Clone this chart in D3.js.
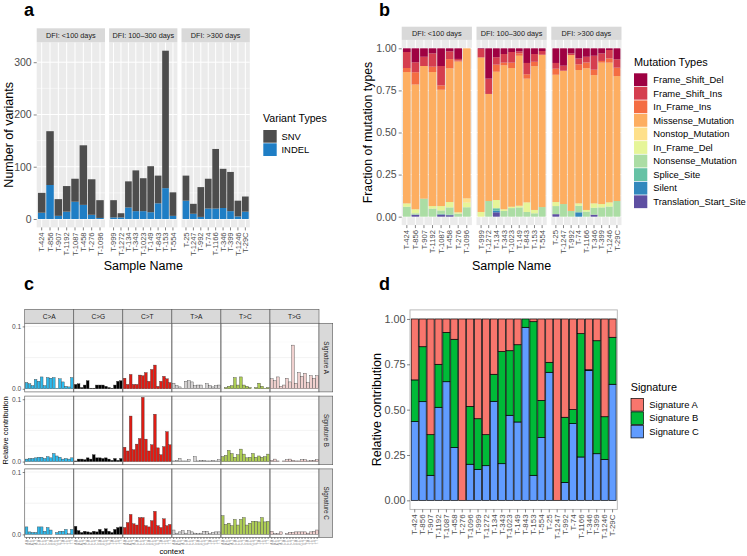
<!DOCTYPE html>
<html><head><meta charset="utf-8">
<script src="https://cdn.jsdelivr.net/npm/d3@7"></script>
<style>body{margin:0;background:#fff}svg{display:block}text{font-family:"Liberation Sans",Arial,sans-serif}</style>
</head><body><svg id="c" width="747" height="556"></svg>
<script>
// ---------------- DATA ----------------
const groups = ["DFI: <100 days", "DFI: 100–300 days", "DFI: >300 days"];
const samples = ["T-424","T-856","T-907","T-1192","T-1087","T-458","T-276","T-1096",
  "T-999","T-1272","T-134","T-343","T-1023","T-149","T-843","T-153","T-554",
  "T-25","T-1247","T-992","T-74","T-1166","T-346","T-399","T-1246","T-29C"];
const sampleGroup = [0,0,0,0,0,0,0,0, 1,1,1,1,1,1,1,1,1, 2,2,2,2,2,2,2,2,2];

// panel a: variant counts
const variantTypes = ["SNV", "INDEL"];
const snvCounts   = [38,103,32,49,44,114,68,34, 33,8,50,78,63,88,53,263,45, 48,19,57,57,114,75,75,30,29];
const indelCounts = [12,65,6,14,33,27,8,2, 3,3,22,15,15,13,30,59,6, 35,10,4,20,20,21,15,5,14];
const aTicks = [0, 100, 200, 300];

// panel b: fraction of mutation types
const mutationTypes = ["Frame_Shift_Del","Frame_Shift_Ins","In_Frame_Ins","Missense_Mutation","Nonstop_Mutation",
  "In_Frame_Del","Nonsense_Mutation","Splice_Site","Silent","Translation_Start_Site"];
const frameShiftDel = [.022,.083,.050,.030,.105,.018,.063,0, .004,.180,.053,.034,.022,.018,.087,.034,.016, .087,.103,.030,.060,.050,.044,.030,.010,.065];
const frameShiftIns = [.095,.059,.055,.079,.115,.046,.010,0, .050,.091,.044,.051,.063,.012,.067,.046,.022, .034,.030,.010,.035,.034,.083,.045,.050,.050];
const inFrameIns    = [.024,.073,0,.032,.026,.055,.006,0, 0,0,.042,.016,.032,.014,.026,.026,0, .036,0,0,.034,.034,.032,.010,.025,.050];
const missense      = [.780,.741,.788,.796,.691,.794,.895,.891, .918,.636,.762,.855,.824,.891,.735,.854,.905, .756,.792,.926,.792,.842,.762,.840,.830,.742];
const nonstop       = [0,0,0,0,0,0,0,.025, 0,0,0,0,0,0,0,0,0, 0,0,0,0,0,0,0,0,0];
const inFrameDel    = [.020,.024,0,.015,.026,.032,.008,.028, .028,0,.049,.010,.008,.010,.057,.020,0, .024,0,0,.014,.010,.026,.020,.025,0];
const nonsense      = [.059,.008,.107,.048,.020,.042,.018,.056, 0,.093,0,.034,.051,.055,.028,.020,.057, .048,.075,.034,.039,.030,.041,.055,.060,.093];
const spliceSite    = [0,0,0,0,.004,.004,0,0, 0,0,.014,0,0,0,0,0,0, 0,0,0,0,0,0,0,0,0];
const silent        = [0,0,0,0,0,0,0,0, 0,0,.010,0,0,0,0,0,0, 0,0,0,.026,0,0,0,0,0];
const translationStart = [0,.012,0,0,.013,.009,0,0, 0,0,.026,0,0,0,0,0,0, .015,0,0,0,0,.012,0,0,0];
const bTicks = [0, 0.25, 0.5, 0.75, 1];

// panel c: 96-context mutational signatures
const substitutions = ["C>A","C>G","C>T","T>A","T>C","T>G"];
const contexts = ["A.A","A.C","A.G","A.T","C.A","C.C","C.G","C.T","G.A","G.C","G.G","G.T","T.A","T.C","T.G","T.T"];
const signatureNames = ["Signature A","Signature B","Signature C"];
const profileA = [
  [.010,.008,.005,.015,.012,.019,.005,.018,.017,.018,.001,.016,.011,.004,.003,.018],
  [.007,.008,.002,.006,.013,.001,.001,.006,.006,.006,.004,.002,.001,.006,.012,.013],
  [.017,.007,.023,.007,.007,.022,.021,.026,.012,.031,.038,.004,.012,.020,.016,.010],
  [.009,.005,.003,.001,.012,.013,.011,.005,.006,.006,.001,.008,.005,.003,.005,.006],
  [.000,.002,.004,.005,.018,.006,.019,.006,.004,.002,.000,.002,.009,.004,.001,.002],
  [.016,.013,.019,.004,.006,.017,.011,.070,.009,.026,.020,.025,.010,.021,.017,.021]];
const profileB = [
  [.004,.005,.005,.006,.007,.007,.005,.008,.006,.013,.009,.007,.004,.005,.004,.006],
  [.001,.004,.004,.003,.006,.004,.011,.006,.006,.005,.006,.004,.002,.005,.002,.005],
  [.023,.017,.073,.019,.028,.037,.103,.036,.017,.027,.076,.022,.011,.024,.048,.027],
  [.001,.002,.005,.001,.001,.003,.000,.008,.001,.002,.002,.001,.001,.002,.001,.003],
  [.008,.010,.018,.013,.007,.011,.020,.012,.006,.007,.013,.007,.009,.007,.008,.012],
  [.002,.004,.001,.000,.001,.003,.004,.002,.001,.001,.003,.003,.001,.002,.002,.003]];
const profileC = [
  [.012,.004,.003,.003,.012,.012,.005,.011,.007,.000,.003,.005,.005,.008,.001,.008],
  [.013,.006,.003,.005,.004,.003,.005,.004,.008,.005,.009,.005,.003,.008,.011,.012],
  [.011,.019,.032,.017,.015,.027,.027,.014,.012,.022,.037,.014,.011,.025,.014,.016],
  [.007,.002,.004,.006,.002,.006,.004,.002,.001,.002,.005,.005,.001,.003,.004,.004],
  [.030,.016,.018,.014,.024,.015,.024,.027,.015,.018,.021,.021,.020,.027,.020,.021],
  [.005,.001,.001,.004,.000,.001,.003,.003,.004,.004,.004,.004,.002,.004,.005,.007]];
const cTicks = [0, 0.1];

// panel d: signature contributions
const signatureA = [.336,.153,.638,.250,.074,.112,1,.482, .550,.638,.305,.180,.175,.142,0,.015,.449, .239,1,.542,.500,.081,.280,.120,.539,.101];
const signatureB = [.230,.303,.224,.237,.272,.596,0,.319, .279,.171,.149,.618,.356,.426,.046,.847,.205, .055,0,.359,.077,.680,.005,.623,.235,.259];
const signatureC = [.434,.544,.138,.513,.654,.292,0,.199, .171,.191,.546,.202,.469,.432,.954,.138,.346, .706,0,.099,.423,.239,.715,.257,.226,.640];
const dTicks = [0, 0.25, 0.5, 0.75, 1];

// ---------------- STYLE ----------------
const variantColors = ["#4d4d4d", "#1f7ec5"];
const mutColors = ["#9e0142","#d53e4f","#f46d43","#fdae61","#fee08b","#e6f598","#abdda4","#66c2a5","#3288bd","#5e4fa2"];
const subColors = ["#2EBAED","#000000","#DE1C14","#D4D2D2","#ADCC54","#F0D0CE"];
const sigColors = ["#F8766D","#00BA38","#619CFF"];
const svg = d3.select("#c");
const TXT = "#4d4d4d";

function styleAxis(g, fs) {
  g.select(".domain").remove();
  g.selectAll(".tick line").attr("stroke", "#333").attr("stroke-width", 0.6);
  g.selectAll(".tick text").attr("fill", TXT).attr("font-size", fs).attr("font-family", "Liberation Sans, Arial, sans-serif");
}
function rotateX(g, pad) {
  g.selectAll(".tick text").attr("transform", "rotate(-90)").attr("text-anchor", "end")
    .attr("x", -pad).attr("y", 0).attr("dy", "0.34em");
}
function band(domain, r) {
  return d3.scaleBand().domain(domain).range(r).paddingInner(0.1).paddingOuter(0.15);
}
function label(t, x, y) {
  svg.append("text").attr("x", x).attr("y", y).attr("font-size", 18).attr("font-weight", "bold").attr("fill", "#000").text(t);
}

// ---------------- PANEL A ----------------
label("a", 24, 16);
const aFacets = [[36.7,105.0],[109.1,177.4],[181.5,249.8]];
const aTop = 42.3, aBot = 227.4, aStrip = 28.3;
const aTotals = snvCounts.map((v, i) => v + indelCounts[i]);
const aMax = d3.max(aTotals);
const ya = d3.scaleLinear().domain([-0.05 * aMax, 1.05 * aMax]).range([aBot, aTop]);
groups.forEach((gname, gi) => {
  const [x0, x1] = aFacets[gi];
  const idx = samples.map((s, i) => i).filter(i => sampleGroup[i] === gi);
  const x = band(idx.map(i => samples[i]), [x0, x1]);
  svg.append("rect").attr("x", x0).attr("y", aTop).attr("width", x1 - x0).attr("height", aBot - aTop).attr("fill", "#ebebeb");
  aTicks.slice(0, -1).forEach(t => svg.append("line").attr("x1", x0).attr("x2", x1).attr("y1", ya(t + 50)).attr("y2", ya(t + 50)).attr("stroke", "#fff").attr("stroke-width", 0.5));
  aTicks.forEach(t => svg.append("line").attr("x1", x0).attr("x2", x1).attr("y1", ya(t)).attr("y2", ya(t)).attr("stroke", "#fff").attr("stroke-width", 1));
  idx.forEach(i => { const cx = x(samples[i]) + x.bandwidth() / 2;
    svg.append("line").attr("x1", cx).attr("x2", cx).attr("y1", aTop).attr("y2", aBot).attr("stroke", "#fff").attr("stroke-width", 1); });
  svg.append("rect").attr("x", x0).attr("y", aStrip).attr("width", x1 - x0).attr("height", aTop - aStrip).attr("fill", "#d9d9d9");
  svg.append("text").attr("x", (x0 + x1) / 2).attr("y", (aStrip + aTop) / 2).attr("dy", "0.35em").attr("text-anchor", "middle")
    .attr("font-size", 7.3).attr("fill", "#1a1a1a").text(gname);
  idx.forEach(i => {
    const s = samples[i];
    svg.append("rect").attr("x", x(s)).attr("width", x.bandwidth()).attr("y", ya(indelCounts[i])).attr("height", ya(0) - ya(indelCounts[i])).attr("fill", variantColors[1]);
    svg.append("rect").attr("x", x(s)).attr("width", x.bandwidth()).attr("y", ya(aTotals[i])).attr("height", ya(indelCounts[i]) - ya(aTotals[i])).attr("fill", variantColors[0]);
  });
  const g = svg.append("g").attr("transform", `translate(0,${aBot})`).call(d3.axisBottom(x).tickSize(3));
  styleAxis(g, 7.6); rotateX(g, 5);
});
{
  const g = svg.append("g").attr("transform", `translate(${aFacets[0][0]},0)`).call(d3.axisLeft(ya).tickValues(aTicks).tickSize(3).tickPadding(2));
  styleAxis(g, 10.5);
}
svg.append("text").attr("transform", `translate(9,${(aTop + aBot) / 2}) rotate(-90)`).attr("text-anchor", "middle").attr("dy", "0.35em")
  .attr("font-size", 12.5).attr("fill", "#000").text("Number of variants");
svg.append("text").attr("x", (aFacets[0][0] + aFacets[2][1]) / 2).attr("y", 270).attr("text-anchor", "middle")
  .attr("font-size", 12.5).attr("fill", "#000").text("Sample Name");
svg.append("text").attr("x", 263).attr("y", 122).attr("font-size", 10.6).attr("fill", "#000").text("Variant Types");
variantTypes.forEach((v, i) => {
  svg.append("rect").attr("x", 263.3).attr("y", 130 + i * 13.3).attr("width", 13.4).attr("height", 12.7).attr("fill", variantColors[i]);
  svg.append("text").attr("x", 281.5).attr("y", 136.5 + i * 13.3).attr("dy", "0.35em").attr("font-size", 9.4).attr("fill", "#000").text(v);
});

// ---------------- PANEL B ----------------
label("b", 379, 16);
const bFacets = [[401.7,471.9],[476.5,546.7],[551.3,621.5]];
const bTop = 39.9, bBot = 225.1, bStrip = 26.7;
const yb = d3.scaleLinear().domain([-0.05, 1.05]).range([bBot, bTop]);
const mutSeries = [frameShiftDel, frameShiftIns, inFrameIns, missense, nonstop, inFrameDel, nonsense, spliceSite, silent, translationStart];
const bRows = samples.map((s, i) => { const o = { sample: s }; mutationTypes.forEach((m, k) => o[m] = mutSeries[k][i]); return o; });
const bStack = d3.stack().keys(mutationTypes.slice().reverse())(bRows);
groups.forEach((gname, gi) => {
  const [x0, x1] = bFacets[gi];
  const idx = samples.map((s, i) => i).filter(i => sampleGroup[i] === gi);
  const x = band(idx.map(i => samples[i]), [x0, x1]);
  svg.append("rect").attr("x", x0).attr("y", bTop).attr("width", x1 - x0).attr("height", bBot - bTop).attr("fill", "#ebebeb");
  [0.125, 0.375, 0.625, 0.875].forEach(t => svg.append("line").attr("x1", x0).attr("x2", x1).attr("y1", yb(t)).attr("y2", yb(t)).attr("stroke", "#fff").attr("stroke-width", 0.5));
  bTicks.forEach(t => svg.append("line").attr("x1", x0).attr("x2", x1).attr("y1", yb(t)).attr("y2", yb(t)).attr("stroke", "#fff").attr("stroke-width", 1));
  idx.forEach(i => { const cx = x(samples[i]) + x.bandwidth() / 2;
    svg.append("line").attr("x1", cx).attr("x2", cx).attr("y1", bTop).attr("y2", bBot).attr("stroke", "#fff").attr("stroke-width", 1); });
  svg.append("rect").attr("x", x0).attr("y", bStrip).attr("width", x1 - x0).attr("height", bTop - bStrip).attr("fill", "#d9d9d9");
  svg.append("text").attr("x", (x0 + x1) / 2).attr("y", (bStrip + bTop) / 2).attr("dy", "0.35em").attr("text-anchor", "middle")
    .attr("font-size", 7.3).attr("fill", "#1a1a1a").text(gname);
  bStack.forEach(layer => {
    const col = mutColors[mutationTypes.indexOf(layer.key)];
    idx.forEach(i => {
      const d = layer[i];
      if (d[1] - d[0] <= 0) return;
      svg.append("rect").attr("x", x(samples[i])).attr("width", x.bandwidth()).attr("y", yb(d[1])).attr("height", yb(d[0]) - yb(d[1])).attr("fill", col);
    });
  });
  const g = svg.append("g").attr("transform", `translate(0,${bBot})`).call(d3.axisBottom(x).tickSize(3));
  styleAxis(g, 7.6); rotateX(g, 5);
});
{
  const g = svg.append("g").attr("transform", `translate(${bFacets[0][0]},0)`).call(d3.axisLeft(yb).tickValues(bTicks).tickFormat(d3.format(".2f")).tickSize(3).tickPadding(2));
  styleAxis(g, 10.5);
}
svg.append("text").attr("transform", `translate(368,${(bTop + bBot) / 2}) rotate(-90)`).attr("text-anchor", "middle").attr("dy", "0.35em")
  .attr("font-size", 12.3).attr("fill", "#000").text("Fraction of mutation types");
svg.append("text").attr("x", (bFacets[0][0] + bFacets[2][1]) / 2).attr("y", 270).attr("text-anchor", "middle")
  .attr("font-size", 12.5).attr("fill", "#000").text("Sample Name");
svg.append("text").attr("x", 634).attr("y", 65.5).attr("font-size", 10.9).attr("fill", "#000").text("Mutation Types");
mutationTypes.forEach((m, i) => {
  svg.append("rect").attr("x", 634).attr("y", 73.3 + i * 13.56).attr("width", 13.3).attr("height", 12.8).attr("fill", mutColors[i]);
  svg.append("text").attr("x", 653.3).attr("y", 79.7 + i * 13.56).attr("dy", "0.35em").attr("font-size", 9.4).attr("fill", "#000").text(m);
});

// ---------------- PANEL C ----------------
label("c", 24, 290);
const cLeft = 24.7, cColW = 49.05, cStripTop = 309.3, cStripBot = 323.3;
const cRows = [[323.3, 391.9], [396.1, 464.7], [468.9, 537.5]];
const profiles = [profileA, profileB, profileC];
const cRight = cLeft + 6 * cColW;
substitutions.forEach((sub, k) => {
  const x0 = cLeft + k * cColW;
  svg.append("rect").attr("x", x0).attr("y", cStripTop).attr("width", cColW).attr("height", cStripBot - cStripTop).attr("fill", "#d9d9d9").attr("stroke", "#555").attr("stroke-width", 0.6);
  svg.append("text").attr("x", x0 + cColW / 2).attr("y", (cStripTop + cStripBot) / 2).attr("dy", "0.35em").attr("text-anchor", "middle")
    .attr("font-size", 6.6).attr("fill", "#1a1a1a").text(sub);
});
profiles.forEach((prof, r) => {
  const [top, bot] = cRows[r];
  const y = d3.scaleLinear().domain([-0.005, 0.105]).range([bot, top]);
  svg.append("rect").attr("x", cLeft).attr("y", top).attr("width", cRight - cLeft).attr("height", bot - top).attr("fill", "#fff");
  [0.025, 0.075].forEach(t => svg.append("line").attr("x1", cLeft).attr("x2", cRight).attr("y1", y(t)).attr("y2", y(t)).attr("stroke", "#f2f2f2").attr("stroke-width", 0.4));
  [0, 0.05, 0.1].forEach(t => svg.append("line").attr("x1", cLeft).attr("x2", cRight).attr("y1", y(t)).attr("y2", y(t)).attr("stroke", "#ebebeb").attr("stroke-width", 0.6));
  substitutions.forEach((sub, k) => {
    const x0 = cLeft + k * cColW;
    const x = band(contexts, [x0, x0 + cColW]);
    contexts.forEach((c, j) => {
      const v = prof[k][j];
      svg.append("rect").attr("x", x(c)).attr("width", x.bandwidth()).attr("y", y(v)).attr("height", y(0) - y(v))
        .attr("fill", subColors[k]).attr("stroke", "#333").attr("stroke-width", 0.35);
    });
    svg.append("rect").attr("x", x0).attr("y", top).attr("width", cColW).attr("height", bot - top).attr("fill", "none").attr("stroke", "#666").attr("stroke-width", 0.7);
    if (r === 2) {
      const g = svg.append("g").attr("transform", `translate(0,${bot})`).call(d3.axisBottom(x).tickSize(1.5));
      styleAxis(g, 3); rotateX(g, 2.5);
      g.selectAll(".tick text").attr("fill", "#7f7f7f");
    }
  });
  svg.append("rect").attr("x", cRight).attr("y", top).attr("width", 13.7).attr("height", bot - top).attr("fill", "#d9d9d9").attr("stroke", "#555").attr("stroke-width", 0.6);
  svg.append("text").attr("transform", `translate(${cRight + 6.85},${(top + bot) / 2}) rotate(90)`).attr("text-anchor", "middle").attr("dy", "0.35em")
    .attr("font-size", 6.3).attr("fill", "#1a1a1a").text(signatureNames[r]);
  const g = svg.append("g").attr("transform", `translate(${cLeft},0)`).call(d3.axisLeft(y).tickValues(cTicks).tickFormat(d3.format(".1f")).tickSize(2).tickPadding(1.5));
  styleAxis(g, 6.6);
});
svg.append("text").attr("transform", `translate(5,${(cRows[0][0] + cRows[2][1]) / 2}) rotate(-90)`).attr("text-anchor", "middle").attr("dy", "0.35em")
  .attr("font-size", 7.5).attr("fill", "#000").text("Relative contribution");
svg.append("text").attr("x", (cLeft + cRight) / 2).attr("y", 554).attr("text-anchor", "middle").attr("font-size", 7.7).attr("fill", "#000").text("context");

// ---------------- PANEL D ----------------
label("d", 379, 290);
const dL = 410, dR = 617.3, dTop = 309.9, dBot = 509.4;
const xd = band(samples, [dL, dR]);
const yd = d3.scaleLinear().domain([-0.05, 1.05]).range([dBot, dTop]);
const dRows = samples.map((s, i) => ({ sample: s, "Signature A": signatureA[i], "Signature B": signatureB[i], "Signature C": signatureC[i] }));
const dStack = d3.stack().keys(signatureNames.slice().reverse())(dRows);
dStack.forEach(layer => {
  const col = sigColors[signatureNames.indexOf(layer.key)];
  layer.forEach((d, i) => {
    if (d[1] - d[0] <= 0) return;
    svg.append("rect").attr("x", xd(samples[i])).attr("width", xd.bandwidth()).attr("y", yd(d[1])).attr("height", yd(d[0]) - yd(d[1]))
      .attr("fill", col).attr("stroke", "#000").attr("stroke-width", 0.7);
  });
});
svg.append("rect").attr("x", dL).attr("y", dTop).attr("width", dR - dL).attr("height", dBot - dTop).attr("fill", "none").attr("stroke", "#b3b3b3").attr("stroke-width", 0.9);
{
  const g = svg.append("g").attr("transform", `translate(0,${dBot})`).call(d3.axisBottom(xd).tickSize(3));
  styleAxis(g, 8); rotateX(g, 5);
  const gy = svg.append("g").attr("transform", `translate(${dL},0)`).call(d3.axisLeft(yd).tickValues(dTicks).tickFormat(d3.format(".2f")).tickSize(3).tickPadding(1.5));
  styleAxis(gy, 10.8);
}
svg.append("text").attr("transform", `translate(377,${(dTop + dBot) / 2}) rotate(-90)`).attr("text-anchor", "middle").attr("dy", "0.35em")
  .attr("font-size", 12.5).attr("fill", "#000").text("Relative contribution");
svg.append("text").attr("x", 630.7).attr("y", 390.5).attr("font-size", 10.8).attr("fill", "#000").text("Signature");
signatureNames.forEach((s, i) => {
  svg.append("rect").attr("x", 631).attr("y", 398.5 + i * 13.4).attr("width", 12.4).attr("height", 12.6).attr("fill", sigColors[i]).attr("stroke", "#000").attr("stroke-width", 0.7);
  svg.append("text").attr("x", 649.3).attr("y", 404.8 + i * 13.4).attr("dy", "0.35em").attr("font-size", 9.4).attr("fill", "#000").text(s);
});
</script></body></html>
